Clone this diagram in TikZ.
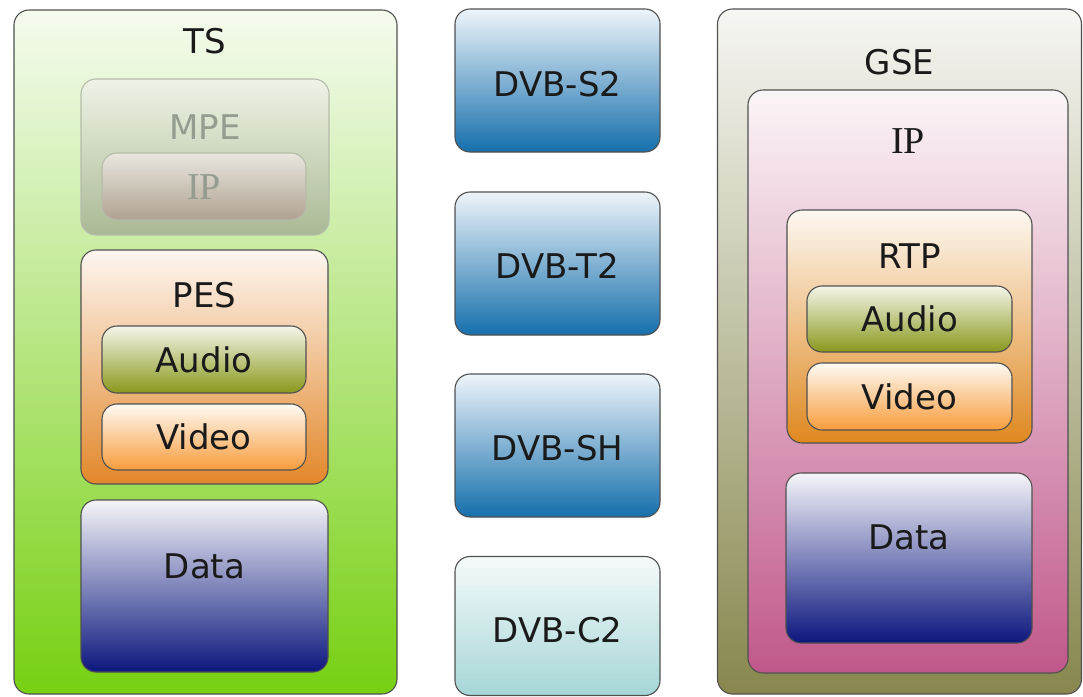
\documentclass[tikz,border=0pt]{standalone}
\usepackage{fontspec}
\setmainfont{DejaVu Sans}
\newfontfamily\serifip{Liberation Serif}
\definecolor{boxline}{HTML}{505050}
\definecolor{fadeline}{HTML}{B4BCAA}
\definecolor{txt}{HTML}{1A1A1A}
\definecolor{fadetxt}{HTML}{939C8E}
\definecolor{tsTop}{HTML}{F5FBEF}
\definecolor{tsBot}{HTML}{76D012}
\definecolor{mpeTop}{HTML}{EEF3E6}
\definecolor{mpeBot}{HTML}{AAB994}
\definecolor{ipfTop}{HTML}{E9E6DE}
\definecolor{ipfBot}{HTML}{AFA292}
\definecolor{pesTop}{HTML}{FDF6F1}
\definecolor{pesBot}{HTML}{E2872A}
\definecolor{audTop}{HTML}{F5F5EA}
\definecolor{audBot}{HTML}{8A981C}
\definecolor{vidTop}{HTML}{FEFAF3}
\definecolor{vidBot}{HTML}{F79C3C}
\definecolor{datTop}{HTML}{F5F5F9}
\definecolor{datBot}{HTML}{0C177E}
\definecolor{dvbTop}{HTML}{EEF4FA}
\definecolor{dvbBot}{HTML}{156FAC}
\definecolor{dcTop}{HTML}{F5FAFA}
\definecolor{dcBot}{HTML}{A6D6D7}
\definecolor{gseTop}{HTML}{F6F6F3}
\definecolor{gseBot}{HTML}{87874E}
\definecolor{ipTop}{HTML}{FBF5F7}
\definecolor{ipBot}{HTML}{C0588A}
\definecolor{rtpTop}{HTML}{FDF8F1}
\definecolor{rtpBot}{HTML}{DF8820}
\tikzset{
  box/.style={draw=boxline, line width=1.1pt, rounded corners=15pt, inner sep=0pt, anchor=center},
  fadebox/.style={draw=fadeline, line width=1.1pt, rounded corners=15pt, inner sep=0pt, anchor=center},
  lbl/.style={inner sep=0pt, font=\fontsize{34}{34}\selectfont, text=txt},
  serlbl/.style={inner sep=0pt, font=\serifip\fontsize{38}{38}\selectfont, text=txt},
  fadelbl/.style={lbl, text=fadetxt},
  fadeserlbl/.style={serlbl, text=fadetxt},
  sh/.style 2 args={top color=#1, bottom color=#2},
}
\begin{document}
\begin{tikzpicture}[x=1pt,y=-1pt]
\useasboundingbox (0,0) rectangle (1083,696);
% ---------- left column: TS ----------
\node[box, sh={tsTop}{tsBot}, minimum width=383, minimum height=684] (ts) at (205.5,352) {};
\node[lbl] (tsl) at (205,41) {TS};
\node[fadebox, sh={mpeTop}{mpeBot}, minimum width=248, minimum height=156] (mpe) at (205,157) {};
\node[fadelbl] (mpel) at (205,127) {MPE};
\node[fadebox, sh={ipfTop}{ipfBot}, minimum width=204, minimum height=67] (ipf) at (204,186.5) {};
\node[fadeserlbl] (ipfl) at (204,187) {IP};
\node[box, sh={pesTop}{pesBot}, minimum width=247, minimum height=234] (pes) at (204.5,367) {};
\node[lbl] (pesl) at (204.5,295) {PES};
\node[box, sh={audTop}{audBot}, minimum width=204, minimum height=67] (aud1) at (204,359.5) {};
\node[lbl] (aud1l) at (204,360) {Audio};
\node[box, sh={vidTop}{vidBot}, minimum width=204, minimum height=66] (vid1) at (204,437) {};
\node[lbl] (vid1l) at (204,437) {Video};
\node[box, sh={datTop}{datBot}, minimum width=247, minimum height=172] (dat1) at (204.5,586) {};
\node[lbl] (dat1l) at (204.5,566) {Data};
% ---------- middle column: DVB ----------
\node[box, sh={dvbTop}{dvbBot}, minimum width=205, minimum height=143] (s2) at (557.5,80.5) {};
\node[lbl] (s2l) at (557.5,84) {DVB-S2};
\node[box, sh={dvbTop}{dvbBot}, minimum width=205, minimum height=143] (t2) at (557.5,263.5) {};
\node[lbl] (t2l) at (557.5,266) {DVB-T2};
\node[box, sh={dvbTop}{dvbBot}, minimum width=205, minimum height=143] (sh2) at (557.5,445.5) {};
\node[lbl] (sh2l) at (557.5,448) {DVB-SH};
\node[box, sh={dcTop}{dcBot}, minimum width=205, minimum height=139] (c2) at (557.5,626) {};
\node[lbl] (c2l) at (557.5,630) {DVB-C2};
% ---------- right column: GSE ----------
\node[box, sh={gseTop}{gseBot}, minimum width=364, minimum height=685] (gse) at (899.5,351.5) {};
\node[lbl] (gsel) at (899.5,62) {GSE};
\node[box, sh={ipTop}{ipBot}, minimum width=320, minimum height=583] (ip) at (908,381.5) {};
\node[serlbl] (ipl) at (908,141) {IP};
\node[box, sh={rtpTop}{rtpBot}, minimum width=245, minimum height=233] (rtp) at (909.5,326.5) {};
\node[lbl] (rtpl) at (909.5,256) {RTP};
\node[box, sh={audTop}{audBot}, minimum width=205, minimum height=66] (aud2) at (909.5,319) {};
\node[lbl] (aud2l) at (909.5,319) {Audio};
\node[box, sh={vidTop}{vidBot}, minimum width=205, minimum height=67] (vid2) at (909.5,396.5) {};
\node[lbl] (vid2l) at (909.5,397) {Video};
\node[box, sh={datTop}{datBot}, minimum width=246, minimum height=170] (dat2) at (909,558) {};
\node[lbl] (dat2l) at (909,537) {Data};
\end{tikzpicture}
\end{document}
